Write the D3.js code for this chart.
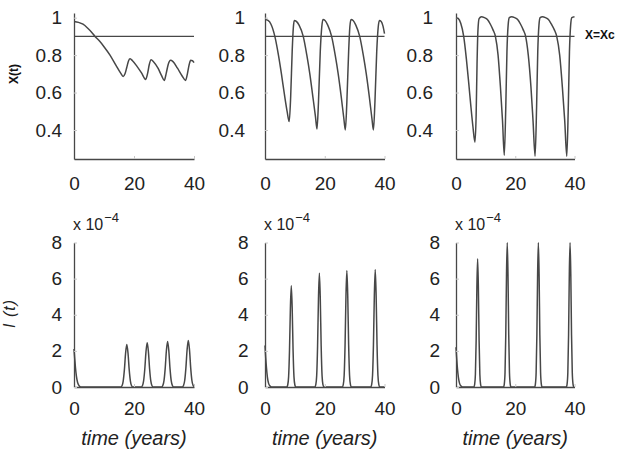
<!DOCTYPE html>
<html><head><meta charset="utf-8">
<script src="https://cdn.jsdelivr.net/npm/d3@7"></script>
<style>
body{margin:0;background:#fff;}
svg{display:block;font-family:"Liberation Sans",Arial,Helvetica,sans-serif;}
</style></head><body>
<svg id="chart" width="623" height="454"></svg>
<script>
// ---- data ----
const timeTicks = [0, 20, 40];
const timeTickLabels = ["0", "20", "40"];
const xTicks = [0.4, 0.6, 0.8, 1];
const xTickLabels = ["0.4", "0.6", "0.8", "1"];
const iTicks = [0, 2, 4, 6, 8];
const iTickLabels = ["0", "2", "4", "6", "8"];
const xCritical = 0.9;

// X(t) — top row, [time, value]
const xSeriesLeft = [[0,0.98],[1.5,0.975],[3,0.965],[4.5,0.945],[6,0.92],[7,0.90],[8.5,0.875],[10,0.845],[12,0.80],[14,0.745],[15.5,0.705],[16.4,0.686],[17.0,0.70],[17.6,0.735],[18.2,0.77],[18.7,0.78],[19.5,0.77],[21,0.74],[22.5,0.705],[23.9,0.67],[24.5,0.70],[25.1,0.75],[25.7,0.775],[26.5,0.765],[28,0.73],[29.2,0.69],[30.1,0.665],[30.7,0.70],[31.4,0.75],[32.2,0.772],[33,0.765],[34.5,0.73],[36,0.69],[37.2,0.665],[37.8,0.70],[38.4,0.75],[38.9,0.772],[39.5,0.77],[40,0.76]];
const xSeriesMid = [[0,0.99],[1,0.985],[2,0.965],[3.3,0.90],[4.5,0.80],[5.5,0.70],[6.5,0.59],[7.4,0.50],[8.1,0.445],[8.6,0.58],[9.1,0.82],[9.5,0.95],[9.8,0.985],[10.5,0.98],[11.4,0.96],[12.8,0.90],[14.0,0.80],[15.0,0.70],[16.0,0.58],[16.9,0.47],[17.4,0.405],[17.9,0.55],[18.5,0.82],[19.0,0.95],[19.4,0.99],[20.1,0.985],[21.0,0.96],[22.3,0.90],[23.5,0.80],[24.5,0.70],[25.5,0.58],[26.4,0.46],[26.9,0.40],[27.4,0.55],[28.0,0.82],[28.4,0.95],[28.8,0.99],[29.5,0.985],[30.4,0.96],[31.7,0.90],[32.9,0.80],[33.9,0.70],[34.9,0.58],[35.8,0.46],[36.3,0.40],[36.8,0.55],[37.4,0.82],[37.9,0.95],[38.3,0.985],[38.9,0.98],[39.5,0.955],[40,0.915]];
const xSeriesRight = [[0,1.0],[0.8,0.995],[1.6,0.97],[2.6,0.90],[3.5,0.78],[4.3,0.65],[5.0,0.53],[5.7,0.42],[6.4,0.335],[6.8,0.48],[7.1,0.75],[7.4,0.93],[7.8,0.995],[8.6,1.005],[9.6,1.0],[10.6,0.99],[11.6,0.965],[12.5,0.935],[13.3,0.90],[14.2,0.80],[15.0,0.63],[15.7,0.45],[16.3,0.265],[16.8,0.52],[17.2,0.82],[17.6,0.96],[18.0,1.0],[18.8,1.005],[19.8,1.0],[20.8,0.99],[21.8,0.965],[22.7,0.935],[23.5,0.90],[24.4,0.80],[25.3,0.63],[26.0,0.45],[26.7,0.26],[27.2,0.52],[27.6,0.82],[28.0,0.96],[28.4,1.0],[29.2,1.005],[30.2,1.0],[31.2,0.99],[32.2,0.965],[33.2,0.935],[34.0,0.90],[35.0,0.80],[35.9,0.63],[36.7,0.45],[37.4,0.26],[37.9,0.52],[38.3,0.82],[38.7,0.96],[39.1,1.0],[40,1.005]];

// I(t) — bottom row, units of 1e-4, [time, value]
const iSeriesLeft = [[0,2.1],[0.25,1.55],[0.5,1.05],[0.8,0.6],[1.2,0.25],[1.7,0.07],[2.3,0],[15.6,0],[16.0,0.07],[16.4,0.33],[16.8,0.96],[17.2,1.88],[17.6,2.35],[18.0,1.88],[18.4,0.96],[18.8,0.33],[19.2,0.07],[19.6,0],[22.4,0],[22.8,0.07],[23.2,0.34],[23.6,1.0],[24.0,1.96],[24.4,2.45],[24.8,1.96],[25.2,1.0],[25.6,0.34],[26.0,0.07],[26.4,0],[29.2,0],[29.6,0.08],[30.0,0.35],[30.4,1.03],[30.8,2.02],[31.2,2.52],[31.6,2.02],[32.0,1.03],[32.4,0.35],[32.8,0.08],[33.2,0],[36.1,0],[36.5,0.08],[36.9,0.36],[37.3,1.06],[37.7,2.06],[38.1,2.58],[38.5,2.06],[38.9,1.06],[39.3,0.36],[39.7,0.08],[40,0.02]];
const iSeriesMid = [[0,2.3],[0.25,1.6],[0.5,1.05],[0.8,0.55],[1.2,0.2],[1.7,0.05],[2.2,0],[7.3,0],[7.6,0.11],[7.9,0.56],[8.2,2.02],[8.5,4.37],[8.8,5.6],[9.1,4.37],[9.4,2.02],[9.7,0.56],[10.0,0.11],[10.3,0],[16.7,0],[17.0,0.13],[17.3,0.63],[17.6,2.27],[17.9,4.91],[18.2,6.3],[18.5,4.91],[18.8,2.27],[19.1,0.63],[19.4,0.13],[19.7,0],[25.9,0],[26.2,0.13],[26.5,0.65],[26.8,2.32],[27.1,5.03],[27.4,6.45],[27.7,5.03],[28.0,2.32],[28.3,0.65],[28.6,0.13],[28.9,0],[35.4,0],[35.7,0.13],[36.0,0.65],[36.3,2.34],[36.6,5.07],[36.9,6.5],[37.2,5.07],[37.5,2.34],[37.8,0.65],[38.1,0.13],[38.4,0],[40,0]];
const iSeriesRight = [[0,2.2],[0.25,1.55],[0.5,1.0],[0.8,0.55],[1.2,0.2],[1.7,0.05],[2.2,0],[6.05,0],[6.3,0.14],[6.55,0.71],[6.8,2.56],[7.05,5.54],[7.3,7.1],[7.55,5.54],[7.8,2.56],[8.05,0.71],[8.3,0.14],[8.55,0],[16.05,0],[16.3,0.16],[16.55,0.8],[16.8,2.88],[17.05,6.24],[17.3,8.0],[17.55,6.24],[17.8,2.88],[18.05,0.8],[18.3,0.16],[18.55,0],[26.55,0],[26.8,0.16],[27.05,0.8],[27.3,2.88],[27.55,6.24],[27.8,8.0],[28.05,6.24],[28.3,2.88],[28.55,0.8],[28.8,0.16],[29.05,0],[37.25,0],[37.5,0.16],[37.75,0.8],[38.0,2.88],[38.25,6.24],[38.5,8.0],[38.75,6.24],[39.0,2.88],[39.25,0.8],[39.5,0.16],[39.75,0],[40,0]];

// ---- layout ----
const svg = d3.select("#chart");
const cols = [[74,194],[265,384.5],[456,574.5]];
const topGap = [12, 20, 23];
const botGap = [12, 16.5, 16];
const lineColor = "#474747";
const textColor = "#222";

const xSeries = [xSeriesLeft, xSeriesMid, xSeriesRight];
const iSeries = [iSeriesLeft, iSeriesMid, iSeriesRight];

function styleAxis(g, size){
  g.attr("font-size", null).attr("font-family", null);
  g.select(".domain").attr("stroke", lineColor).attr("stroke-width", 1.3);
  g.selectAll(".tick line").attr("stroke", "#c8c8c8").attr("stroke-width", 1);
  g.selectAll(".tick text").attr("fill", textColor).style("font-size", size + "px");
}

cols.forEach((c, k) => {
  const t = d3.scaleLinear().domain([0, 40]).range(c);

  // --- top panel: X(t) ---
  const yX = d3.scaleLinear().domain([0.245, 1.025]).range([159, 13]);
  const gT = svg.append("g");
  gT.append("g").attr("transform", `translate(0,159)`)
    .call(d3.axisBottom(t).tickValues(timeTicks).tickFormat((d,i)=>timeTickLabels[i])
      .tickSizeInner(-3).tickSizeOuter(0).tickPadding(18))
    .call(g => styleAxis(g, 19));
  gT.append("g").attr("transform", `translate(${c[0]},0)`)
    .call(d3.axisLeft(yX).tickValues(xTicks).tickFormat((d,i)=>xTickLabels[i])
      .tickSizeInner(-3).tickSizeOuter(0).tickPadding(topGap[k]))
    .call(g => styleAxis(g, 19));
  gT.append("line")
    .attr("x1", t(0)).attr("x2", t(40))
    .attr("y1", yX(xCritical)).attr("y2", yX(xCritical))
    .attr("stroke", lineColor).attr("stroke-width", 1.3);
  gT.append("path").datum(xSeries[k])
    .attr("fill", "none").attr("stroke", lineColor).attr("stroke-width", 1.5)
    .attr("d", d3.line().x(d=>t(d[0])).y(d=>yX(d[1])).curve(d3.curveMonotoneX));

  // --- bottom panel: I(t) ---
  const yI = d3.scaleLinear().domain([0, 8]).range([387, 242.5]);
  const gB = svg.append("g");
  gB.append("path").datum(iSeries[k])
    .attr("fill", "none").attr("stroke", lineColor).attr("stroke-width", 1.5)
    .attr("d", d3.line().x(d=>t(d[0])).y(d=>yI(d[1])).curve(d3.curveMonotoneX));
  gB.append("g").attr("transform", `translate(0,387)`)
    .call(d3.axisBottom(t).tickValues(timeTicks).tickFormat((d,i)=>timeTickLabels[i])
      .tickSizeInner(-3).tickSizeOuter(0).tickPadding(15))
    .call(g => styleAxis(g, 19));
  gB.append("g").attr("transform", `translate(${c[0]},0)`)
    .call(d3.axisLeft(yI).tickValues(iTicks).tickFormat((d,i)=>iTickLabels[i])
      .tickSizeInner(-3).tickSizeOuter(0).tickPadding(botGap[k]))
    .call(g => styleAxis(g, 19));

  // exponent label
  const ex = gB.append("text").attr("x", c[0] - 1).attr("y", 230)
    .attr("fill", textColor).style("font-size", "16px");
  ex.append("tspan").text("x 10");
  ex.append("tspan").attr("dx", 1).attr("dy", -8).style("font-size", "13px").text("\u22124");

  // x label
  gB.append("text").attr("x", (c[0] + c[1]) / 2).attr("y", 445)
    .attr("text-anchor", "middle").attr("fill", textColor)
    .style("font-size", "20px").style("font-style", "italic")
    .text("time (years)");
});

// y labels
svg.append("text").attr("transform", "translate(17.5,74) rotate(-90)")
  .attr("text-anchor", "middle").attr("fill", "#111")
  .style("font-size", "12px").style("font-weight", "bold").text("X(t)");
svg.append("text").attr("transform", "translate(15,314) rotate(-90)")
  .attr("text-anchor", "middle").attr("fill", textColor)
  .attr("textLength", 28).attr("lengthAdjust", "spacing")
  .style("font-size", "16px").style("font-style", "italic").text("I (t)");

// critical level label
svg.append("text").attr("x", 585).attr("y", 38.5)
  .attr("fill", "#111").style("font-size", "12px").style("font-weight", "bold")
  .text("X=Xc");
</script>
</body></html>
